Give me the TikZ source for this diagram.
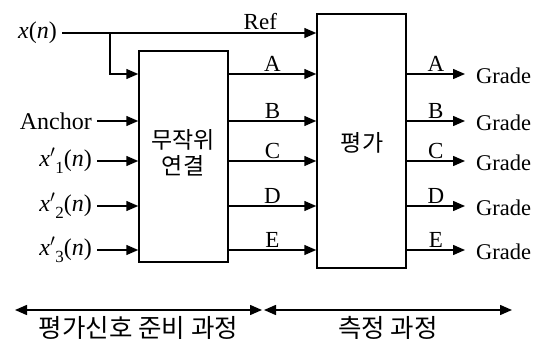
\documentclass[tikz,border=0pt]{standalone}
\usepackage{fontspec}
\setmainfont{Liberation Serif}
\newfontfamily\kr{Noto Sans CJK KR}
\usetikzlibrary{arrows.meta}
\tikzset{
  tip/.tip={Triangle[length=12pt,width=10pt]},
  arr/.style={line width=1.5pt,-tip},
  dbl/.style={line width=1.5pt,tip-tip},
  blk/.style={draw,line width=1.5pt,rectangle,inner sep=0pt},
  lbl/.style={inner sep=1pt,font=\fontsize{23}{26}\selectfont},
  grd/.style={inner ysep=1pt,inner xsep=0pt,font=\fontsize{22.5}{26}\selectfont},
  inp/.style={anchor=east,inner xsep=5pt,inner ysep=0pt,font=\fontsize{24}{28}\selectfont},
  krt/.style={font=\fontsize{23}{27}\selectfont\kr,align=center,inner sep=0pt},
  krb/.style={font=\fontsize{25.5}{28}\selectfont\kr,inner sep=0pt}
}
\begin{document}
\begin{tikzpicture}[x=1pt,y=-1pt]
\useasboundingbox (0,0) rectangle (547,347);
\node[blk,minimum width=89pt,minimum height=211pt] (b1) at (183.5,156.5) {};
\node[krt] (b1t) at (183,153) {무작위\\[-1pt]연결};
\node[blk,minimum width=89pt,minimum height=254pt] (b2) at (361.5,141) {};
\node[krt] (b2t) at (362,143) {평가};
% x(n)
\node[inp] (xn) at (62,33) {\textit{x}(\textit{n})};
\coordinate (br) at (110,33);
\draw[arr] (xn.east) -- (b2.west |- xn.east) node[lbl,pos=0.78,above=2pt] (ref) {Ref};
\draw[arr] (br) -- (br |- 0,74) -- (b1.west |- 0,74);
% inputs
\node[inp] (anc) at (97,121) {Anchor};
\node[inp] (x1) at (97,161) {\textit{x}$'$\raisebox{-0.3em}{\fontsize{17}{17}\selectfont 1}(\textit{n})};
\node[inp] (x2) at (97,206) {\textit{x}$'$\raisebox{-0.3em}{\fontsize{17}{17}\selectfont 2}(\textit{n})};
\node[inp] (x3) at (97,250) {\textit{x}$'$\raisebox{-0.3em}{\fontsize{17}{17}\selectfont 3}(\textit{n})};
\foreach \n in {anc,x1,x2,x3}{
  \draw[arr] (\n.east) -- (b1.west |- \n.east);
}
% middle connections and outputs
\foreach \y/\l in {74/A,121/B,161/C,206/D,250/E}{
  \draw[arr] (b1.east |- 0,\y) -- (b2.west |- 0,\y) node[lbl,midway,above=1pt] {\l};
  \node[grd,anchor=west] (g\l) at (476,\y+2) {Grade};
  \draw[arr] (b2.east |- 0,\y) -- ([xshift=-11pt]g\l.west |- 0,\y) node[lbl,midway,above=1pt] {\l};
}
% bottom
\coordinate (l1) at (15,310);
\coordinate (l2) at (262,310);
\coordinate (r1) at (264,310);
\coordinate (r2) at (512,310);
\draw[dbl] (l1) -- (l2) node[krb,midway,below=6pt] (t1) {평가신호 준비 과정};
\draw[dbl] (r1) -- (r2) node[krb,pos=0.5,below=6pt] (t2) {측정 과정};
\end{tikzpicture}
\end{document}
